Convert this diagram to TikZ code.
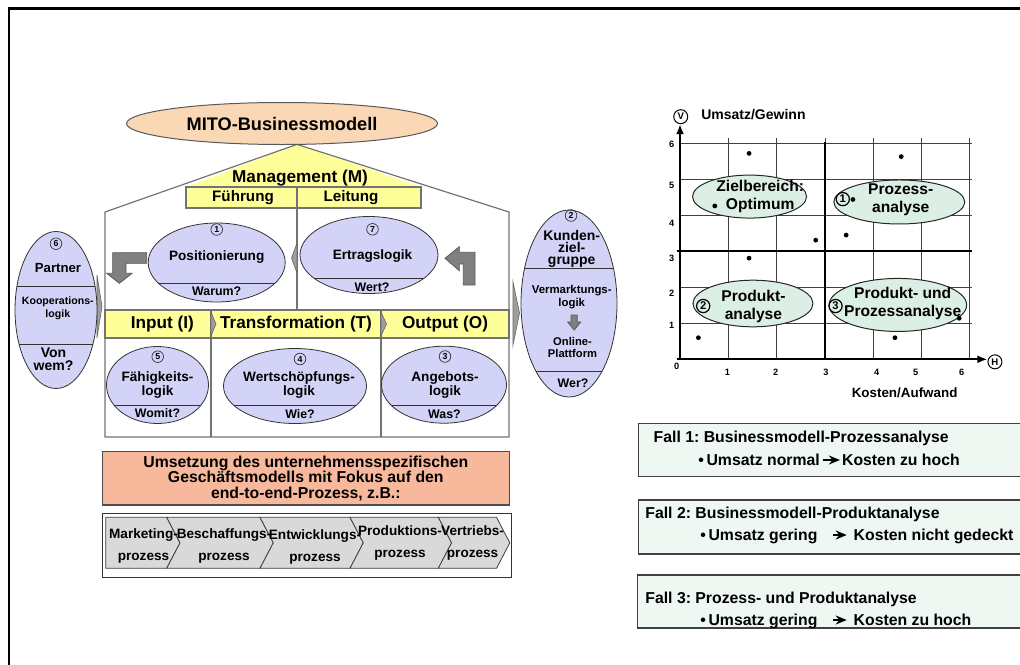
\documentclass[tikz,border=0pt]{standalone}
\usepackage{fontspec}
\setmainfont{Liberation Sans}
\usetikzlibrary{shapes.geometric, arrows.meta}
\definecolor{house-yellow}{HTML}{FFFF99}
\definecolor{oval-lilac}{HTML}{D3D3F7}
\definecolor{mito-peach}{HTML}{FAD7B5}
\definecolor{plan-salmon}{HTML}{F8B89C}
\definecolor{chart-mint}{HTML}{DCEFE4}
\definecolor{case-mint}{HTML}{EEF7F2}
\definecolor{arrow-grey}{HTML}{808080}
\definecolor{step-grey}{HTML}{D9D9D9}
\newcommand{\fsz}[2]{\bfseries\fontsize{#1}{#2}\selectfont}
\frenchspacing

\begin{document}
\begin{tikzpicture}[x=0.5pt, y=-0.5pt,
    every node/.style={inner sep=0pt, align=center},
    houseline/.style={draw=black!55, line width=0.6pt},
    yellowbar/.style={fill=house-yellow, draw=black!55, line width=0.6pt},
    lilac/.style={ellipse, draw=black!80, fill=oval-lilac, line width=0.4pt},
    chords/.style={path picture={\foreach \d in {#1}
        \draw[black!80, line width=0.4pt] ([yshift=\d pt]path picture bounding box.west)
          -- ([yshift=\d pt]path picture bounding box.east);}},
    numring/.style={circle, draw=black!80, line width=0.35pt, minimum size=5.8pt,
        font=\fsz{4.4}{5}},
    lbl/.style={font=\fsz{6.8}{7}},
    ask/.style={font=\fsz{6.2}{7}},
    barlbl/.style={font=\fsz{8.6}{9}},
    sublbl/.style={font=\fsz{7.6}{8}},
    wedge/.style={fill=black!38, draw=black!60, line width=0.3pt},
    bentarrow/.style={fill=arrow-grey, draw=black!65, line width=0.4pt},
    stepbox/.style={fill=step-grey, draw=black!75, line width=0.4pt},
    steplbl/.style={font=\fsz{6.8}{11}},
    gridline/.style={draw=black!75, line width=0.4pt},
    heavyline/.style={draw=black, line width=1pt},
    axisline/.style={draw=black, line width=1pt, -{Latex[length=5pt, width=4pt]}},
    axisring/.style={circle, draw=black, line width=0.5pt, minimum size=7pt, font=\fsz{4.8}{5}},
    chartring/.style={circle, draw=black, line width=0.6pt, minimum size=6.6pt, font=\fsz{5.6}{6}},
    tick/.style={font=\fsz{4.6}{5}},
    mintoval/.style={ellipse, draw=black!85, fill=chart-mint, line width=0.5pt},
    ovallbl/.style={font=\fsz{7.8}{9}},
    casebox/.style={rectangle, draw=black!75, fill=case-mint, line width=0.7pt, anchor=north west},
    caselbl/.style={font=\fsz{7.9}{8}, anchor=west, text height=0.75em, text depth=0.25em},
    implies/.style={-{Stealth[length=5.5pt, width=4.5pt]}, line width=0.9pt},
  ]
  \useasboundingbox (0,0) rectangle (1020,664);
  % page frame (left and top only)
  \draw[line width=1.2pt] (9,670) -- (9,8.5) -- (1030,8.5);

  % house with gable
  \coordinate (apex) at (297,144.4);
  \coordinate (eaveL) at (105,212);
  \coordinate (eaveR) at (509,212);
  \coordinate (baseL) at (105,437);
  \coordinate (baseR) at (509,437);
  \fill[house-yellow] (apex) -- (186,187) -- (421,187) -- cycle;
  \draw[houseline] (baseL) -- (eaveL) -- (apex) -- (eaveR) -- (baseR) -- cycle;
  \node[ellipse, draw=black!65, fill=mito-peach, line width=0.5pt,
        minimum width=155.5pt, minimum height=21pt, font=\fsz{9.1}{10}] (mito) at (282,123.5) {MITO-Businessmodell};
  \node[barlbl] (mgmt) at (300,178) {Management (M)};
  \draw[yellowbar] (186,187) rectangle (421,208);
  \node[sublbl] (fuehrung) at (243,197.5) {Führung};
  \node[sublbl] (leitung) at (351,197.5) {Leitung};

  % I-T-O bar and column dividers
  \draw[yellowbar] (105,310) rectangle (509,338);
  \draw[houseline] (297,187) -- (297,310);
  \draw[houseline] (211,310) -- (211,437);
  \draw[houseline] (381,310) -- (381,437);
  \node[barlbl] (input) at (162.4,324) {Input (I)};
  \node[barlbl] (transf) at (296,324) {Transformation (T)};
  \node[barlbl] (output) at (445,324) {Output (O)};

  % small chevron marks
  \path[wedge] (211,312) -- (216,324) -- (211,336) -- cycle;
  \path[wedge] (381,312) -- (386.5,324) -- (381,336) -- cycle;
  \path[wedge] (513,282) -- (519.5,313) -- (513,345) -- cycle;
  \path[wedge] (97,275) -- (102,306.5) -- (97,338) -- cycle;
  \path[wedge] (297,243) -- (291.5,258) -- (297,273) -- cycle;

  % bent grey arrows
  \path[bentarrow] (146.7,252.7) -- (112.7,252.7) -- (112.7,273.3) -- (106.7,273.3)
     -- (119.4,283.3) -- (132,273.3) -- (126,273.3) -- (126,263.3) -- (146.7,263.3) -- cycle;
  \path[bentarrow] (445,258.3) -- (459.3,246.7) -- (459.3,252.3) -- (475,252.3) -- (475,285)
     -- (463.3,285) -- (463.3,264) -- (459.3,264) -- (459.3,270.7) -- cycle;

  % upper ovals (1) and (7)
  \node[lilac, minimum width=68.5pt, minimum height=39.5pt, chords={-10.4}] (posit) at (216.7,262.5) {};
  \node[numring] (n1) at (216.7,229.5) {1};
  \node[lbl] (positlbl) at (216.7,256.7) {Positionierung};
  \node[ask] (warum) at (216.7,291.7) {Warum?};
  \node[lilac, minimum width=69pt, minimum height=38.5pt, chords={-11.65}] (ertrag) at (369,255) {};
  \node[numring] (n7) at (372.5,229.3) {7};
  \node[lbl] (ertraglbl) at (372.5,255.7) {Ertragslogik};
  \node[ask] (wert) at (372,287.3) {Wert?};

  % lower ovals (5), (4), (3)
  \node[lilac, minimum width=51pt, minimum height=38.5pt, chords={-10}] (faehig) at (157.5,385) {};
  \node[numring] (n5) at (157.7,356.7) {5};
  \node[lbl] (faehiglbl) at (157.5,385) {Fähigkeits-\\logik};
  \node[ask] (womit) at (157.5,413.3) {Womit?};
  \node[lilac, minimum width=71.5pt, minimum height=37.5pt, chords={-9.5}] (wert4) at (295,386) {};
  \node[numring] (n4) at (300,359) {4};
  \node[lbl] (wertlbl) at (299,385) {Wertschöpfungs-\\logik};
  \node[ask] (wie) at (300,414) {Wie?};
  \node[lilac, minimum width=62.5pt, minimum height=38.5pt, chords={-10.15}] (angebot) at (444,384.7) {};
  \node[numring] (n3) at (445,356.5) {3};
  \node[lbl] (angebotlbl) at (445,385) {Angebots-\\logik};
  \node[ask] (was) at (444.5,414) {Was?};

  % side ovals (6) and (2)
  \node[lilac, minimum width=41pt, minimum height=78.5pt, chords={11.65,-17}] (partner) at (56,310) {};
  \node[numring] (n6) at (56,243.7) {6};
  \node[font=\fsz{6.6}{7}] (partnerlbl) at (58,268.3) {Partner};
  \node[font=\fsz{5.3}{6.3}] (koop) at (57.8,308) {Kooperations-\\logik};
  \node[font=\fsz{7}{6.65}] (vonwem) at (53.5,359.3) {Von\\wem?};
  \node[lilac, minimum width=48pt, minimum height=93.5pt, chords={17.6,-34.1}] (kunden) at (569,303.5) {};
  \node[numring] (n2) at (571,215.5) {2};
  \node[font=\fsz{7}{6}] (kundenlbl) at (571.7,248.7) {Kunden-\\ziel-\\gruppe};
  \node[font=\fsz{5.7}{6.3}] (vermarkt) at (571.7,297) {Vermarktungs-\\logik};
  \path[bentarrow] (571,315) -- (577.3,315) -- (577.3,322) -- (580.7,322) -- (574.2,330)
     -- (567.7,322) -- (571,322) -- cycle;
  \node[font=\fsz{5.6}{5.8}] (online) at (572.5,347.5) {Online-\\Plattform};
  \node[ask] (wer) at (573,383.3) {Wer?};

  % implementation box and process chain
  \node[rectangle, draw=black!70, fill=plan-salmon, line width=0.6pt,
        minimum width=203.5pt, minimum height=26.65pt, font=\fsz{7.9}{7.7}] (umsetzung) at (305.8,478.4)
        {Umsetzung des unternehmensspezifischen\\Geschäftsmodells mit Fokus auf den\\end-to-end-Prozess, z.B.:};
  \node[rectangle, draw=black!80, fill=white, line width=0.5pt, anchor=north west,
        minimum width=204.65pt, minimum height=31.7pt] (chain) at (101.7,513.3) {};
  \foreach \a/\b/\n in {105.7/166.7/0, 166.7/260/13.3, 260/350/13.3, 350/438.3/13.3, 438.3/496.5/13.3}
    \draw[stepbox] (\a,517.3) -- (\b,517.3) -- ({\b+13.3},542.8) -- (\b,568.3) -- (\a,568.3) -- ({\a+\n},542.8) -- cycle;
  \node[steplbl] (marketing) at (143.5,545.5) {Marketing-\\prozess};
  \node[steplbl] (beschaffung) at (224,545.5) {Beschaffungs-\\prozess};
  \node[steplbl] (entwicklung) at (315,546.7) {Entwicklungs-\\prozess};
  \node[steplbl] (produktion) at (400,542.8) {Produktions-\\prozess};
  \node[steplbl] (vertrieb) at (472.6,543.3) {Vertriebs-\\prozess};

  % portfolio chart
  \begin{scope}[shift={(680,359.3)}, x=24.15pt, y=18pt]
    \foreach \k in {1,...,6} {
      \draw[gridline] (\k,0) -- (\k,6.14);
      \draw[gridline] (0,\k) -- (6.05,\k);
    }
    \draw[heavyline] (3,0) -- (3,6.05);
    \draw[heavyline] (-0.07,3) -- (6.05,3);
    \coordinate (xfoot) at (-0.07,0);
    \coordinate (yfoot) at (0,-0.03);
    \node[axisring] (V) at (0.015,6.74) {V};
    \node[axisring] (H) at (6.52,-0.07) {H};
    \draw[axisline] (yfoot) -- (yfoot |- V.south);
    \draw[axisline] (xfoot) -- (xfoot -| H.west);
    \foreach \n/\y in {1/0.93, 2/1.83, 3/2.81, 4/3.79, 5/4.84, 6/5.97}
      \node[tick] (ty\n) at (-0.17,\y) {\n};
    \foreach \n/\x in {1/0.98, 2/1.98, 3/3.02, 4/4.07, 5/4.88, 6/5.83}
      \node[tick] (tx\n) at (\x,-0.36) {\n};
    \node[tick] (t0) at (-0.07,-0.2) {0};
    \node[font=\fsz{7}{8}] (vlbl) at (1.52,6.79) {Umsatz/Gewinn};
    \node[font=\fsz{6.7}{8}] (hlbl) at (4.65,-0.94) {Kosten/Aufwand};

    \node[mintoval, minimum width=57pt, minimum height=21.5pt] (ziel) at (1.44,4.52) {};
    \node[ovallbl] (ziellbl) at (1.66,4.52) {Zielbereich:\\Optimum};
    \node[mintoval, minimum width=65.5pt, minimum height=22pt] (prozess) at (4.54,4.37) {};
    \node[ovallbl] (prozesslbl) at (4.57,4.44) {Prozess-\\analyse};
    \node[chartring] (c1) at (3.37,4.45) {1};
    \node[mintoval, minimum width=60pt, minimum height=23.3pt] (produkt) at (1.51,1.55) {};
    \node[ovallbl] (produktlbl) at (1.52,1.46) {Produkt-\\analyse};
    \node[chartring] (c2) at (0.48,1.48) {2};
    \node[mintoval, minimum width=68.8pt, minimum height=26.5pt] (beide) at (4.51,1.51) {};
    \node[ovallbl] (beidelbl) at (4.61,1.54) {Produkt- und\\Prozessanalyse};
    \node[chartring] (c3) at (3.22,1.48) {3};

    \foreach \px/\py in {1.43/5.72, 4.58/5.63, 0.72/4.26, 3.58/4.44, 2.81/3.31,
                         3.44/3.45, 1.43/2.81, 0.38/0.6, 4.45/0.6, 5.78/1.14}
      \fill (\px,\py) circle[radius=1.2pt];
  \end{scope}

  % case boxes
  \node[casebox, minimum width=196pt, minimum height=26.65pt] (fall1) at (638,422.7) {};
  \node[caselbl] (fall1lbl) at (653.3,437.3) {Fall 1: Businessmodell-Prozessanalyse};
  \node[caselbl] (u1) at (698,460) {•\,Umsatz normal};
  \node[caselbl] (k1) at (841.7,460) {Kosten zu hoch};
  \draw[implies, shorten <=1.2pt, shorten >=0.9pt] (u1.east) -- (k1.west);

  \node[casebox, minimum width=196pt, minimum height=27pt] (fall2) at (638,499.3) {};
  \node[caselbl] (fall2lbl) at (645,513.3) {Fall 2: Businessmodell-Produktanalyse};
  \node[caselbl] (u2) at (700,535) {•\,Umsatz gering};
  \node[caselbl] (k2) at (853.3,535) {Kosten nicht gedeckt};
  \draw[implies, shorten <=7.5pt, shorten >=3.3pt] (u2.east) -- (k2.west);

  \node[casebox, minimum width=196.5pt, minimum height=26.5pt] (fall3) at (637,574.3) {};
  \node[caselbl] (fall3lbl) at (645,598.3) {Fall 3: Prozess- und Produktanalyse};
  \node[caselbl] (u3) at (700,620) {•\,Umsatz gering};
  \node[caselbl] (k3) at (853.3,620) {Kosten zu hoch};
  \draw[implies, shorten <=7.5pt, shorten >=3.3pt] (u3.east) -- (k3.west);
\end{tikzpicture}
\end{document}
